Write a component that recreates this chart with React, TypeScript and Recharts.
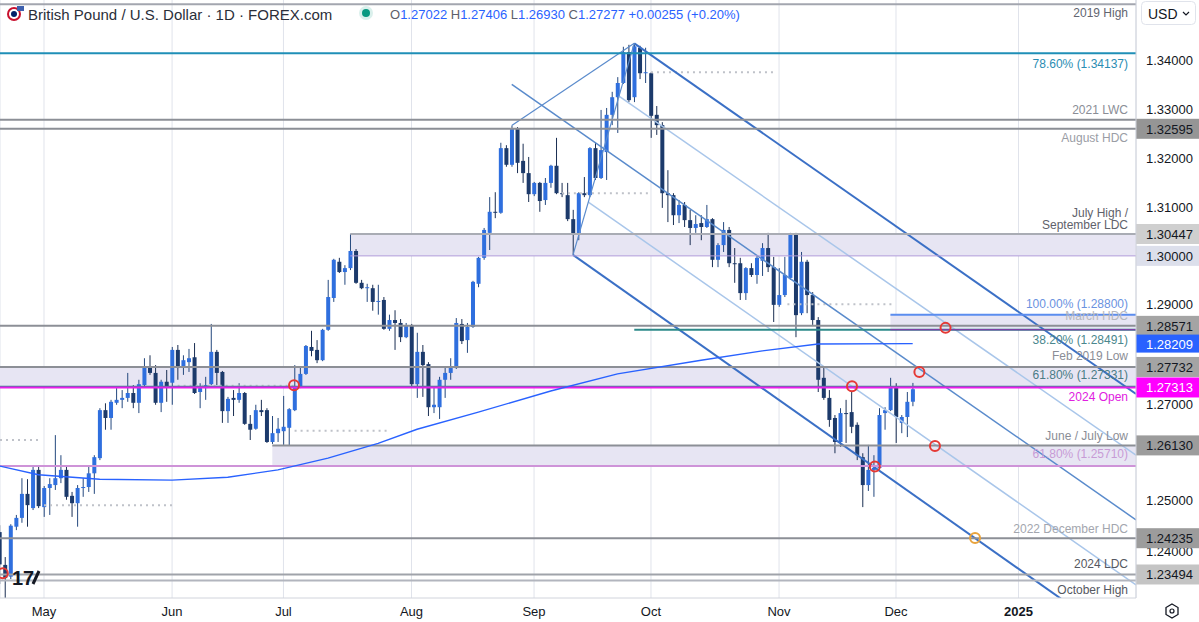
import React from 'react';
import {
  ComposedChart, Bar, Line, XAxis, YAxis, CartesianGrid,
  ReferenceLine, ReferenceArea, ReferenceDot,
} from 'recharts';

// ---------- data ----------
const FIRST_BAR = -1; // bar index of the first candle (Apr 19 2024), May 1 = 7
const opens = [1.2436,1.2369,1.2345,1.2447,1.2465,1.2514,1.2485,1.2563,1.2487,1.2526,1.2532,1.2546,1.2563,1.2510,1.2495,1.2526,1.2528,1.2556,1.2587,1.2685,1.2669,1.2700,1.2706,1.2710,1.2720,1.2700,1.2736,1.2773,1.2761,1.2700,1.2743,1.2741,1.2808,1.2773,1.2783,1.2793,1.2722,1.2730,1.2738,1.2804,1.2763,1.2683,1.2710,1.2706,1.2720,1.2657,1.2647,1.2685,1.2685,1.2620,1.2638,1.2642,1.2649,1.2685,1.2734,1.2759,1.2814,1.2808,1.2787,1.2849,1.2914,1.2988,1.2967,1.2975,1.3010,1.2945,1.2934,1.2934,1.2906,1.2910,1.2851,1.2869,1.2863,1.2834,1.2857,1.2738,1.2804,1.2779,1.2691,1.2691,1.2747,1.2761,1.2771,1.2861,1.2828,1.2855,1.2943,1.2996,1.3047,1.3090,1.3088,1.3220,1.3186,1.3261,1.3194,1.3169,1.3126,1.3149,1.3114,1.3149,1.3184,1.3128,1.3124,1.3075,1.3045,1.3128,1.3124,1.3220,1.3159,1.3212,1.3288,1.3324,1.3353,1.3416,1.3324,1.3425,1.3373,1.3373,1.3288,1.3267,1.3128,1.3124,1.3083,1.3104,1.3073,1.3057,1.3067,1.3059,1.3075,1.2992,1.3022,1.3053,1.2985,1.2985,1.2924,1.2975,1.2961,1.2990,1.3016,1.2977,1.2900,1.2920,1.2955,1.3043,1.2883,1.2988,1.2920,1.2869,1.2751,1.2710,1.2669,1.2620,1.2679,1.2681,1.2655,1.2589,1.2532,1.2563,1.2567,1.2679,1.2685,1.2732,1.2659,1.2671,1.27022];
const highs = [1.2450,1.2385,1.2452,1.2471,1.2546,1.2544,1.2569,1.2569,1.2530,1.2546,1.2634,1.2593,1.2569,1.2518,1.2532,1.2546,1.2571,1.2593,1.2689,1.2699,1.2706,1.2730,1.2726,1.2761,1.2736,1.2747,1.2791,1.2797,1.2777,1.2747,1.2767,1.2814,1.2818,1.2797,1.2810,1.2822,1.2740,1.2753,1.2861,1.2808,1.2765,1.2712,1.2726,1.2740,1.2722,1.2675,1.2696,1.2706,1.2689,1.2673,1.2669,1.2714,1.2689,1.2777,1.2773,1.2818,1.2847,1.2828,1.2851,1.2951,1.2994,1.2996,1.2981,1.3045,1.3014,1.2951,1.2943,1.2941,1.2941,1.2916,1.2880,1.2889,1.2871,1.2863,1.2861,1.2843,1.2818,1.2783,1.2732,1.2753,1.2773,1.2791,1.2873,1.2871,1.2863,1.2949,1.2998,1.3057,1.3120,1.3130,1.3231,1.3226,1.3266,1.3263,1.3229,1.3202,1.3151,1.3151,1.3159,1.3186,1.3241,1.3149,1.3149,1.3094,1.3130,1.3161,1.3222,1.3231,1.3298,1.3302,1.3335,1.3365,1.3427,1.3431,1.3434,1.3429,1.3425,1.3375,1.3306,1.3273,1.3175,1.3128,1.3114,1.3110,1.3094,1.3083,1.3083,1.3104,1.3077,1.3026,1.3069,1.3059,1.3016,1.2996,1.2977,1.2985,1.3000,1.3026,1.3047,1.2998,1.2975,1.2998,1.3047,1.3047,1.3008,1.2992,1.2926,1.2875,1.2771,1.2726,1.2675,1.2689,1.2706,1.2724,1.2660,1.2597,1.2614,1.2593,1.2689,1.2691,1.2751,1.2740,1.2675,1.2722,1.27406];
const lows = [1.2330,1.2301,1.2340,1.2440,1.2455,1.2447,1.2481,1.2485,1.2467,1.2471,1.2522,1.2536,1.2502,1.2467,1.2447,1.2508,1.2518,1.2514,1.2583,1.2645,1.2645,1.2696,1.2689,1.2702,1.2689,1.2679,1.2734,1.2757,1.2696,1.2681,1.2702,1.2696,1.2747,1.2757,1.2763,1.2718,1.2689,1.2706,1.2736,1.2736,1.2659,1.2659,1.2673,1.2700,1.2655,1.2624,1.2645,1.2673,1.2618,1.2616,1.2620,1.2614,1.2613,1.2683,1.2730,1.2757,1.2795,1.2781,1.2785,1.2847,1.2906,1.2965,1.2941,1.2971,1.2943,1.2932,1.2906,1.2888,1.2880,1.2849,1.2847,1.2808,1.2824,1.2832,1.2734,1.2710,1.2712,1.2673,1.2679,1.2667,1.2710,1.2747,1.2769,1.2820,1.2802,1.2853,1.2936,1.2992,1.3012,1.3077,1.3086,1.3182,1.3182,1.3169,1.3149,1.3110,1.3122,1.3090,1.3104,1.3139,1.3126,1.3120,1.3071,1.3002,1.3032,1.3120,1.3120,1.3155,1.3157,1.3155,1.3267,1.3251,1.3351,1.3314,1.3314,1.3361,1.3353,1.3241,1.3247,1.3098,1.3069,1.3063,1.3067,1.3059,1.3022,1.3047,1.3032,1.3057,1.2977,1.2977,1.3008,1.2977,1.2945,1.2910,1.2910,1.2957,1.2943,1.2959,1.2967,1.2865,1.2896,1.2916,1.2951,1.2834,1.2879,1.2883,1.2859,1.2722,1.2706,1.2651,1.2597,1.2610,1.2618,1.2638,1.2583,1.2487,1.2520,1.2508,1.2565,1.2645,1.2683,1.2618,1.2638,1.2630,1.26930];
const closes = [1.2370,1.2342,1.2449,1.2465,1.2514,1.2491,1.2563,1.2489,1.2526,1.2534,1.2546,1.2563,1.2508,1.2495,1.2526,1.2528,1.2556,1.2589,1.2685,1.2669,1.2702,1.2706,1.2710,1.2720,1.2700,1.2738,1.2773,1.2761,1.2700,1.2743,1.2734,1.2808,1.2771,1.2787,1.2791,1.2720,1.2730,1.2736,1.2804,1.2761,1.2683,1.2708,1.2706,1.2720,1.2657,1.2645,1.2685,1.2681,1.2620,1.2638,1.2647,1.2651,1.2687,1.2734,1.2759,1.2816,1.2806,1.2787,1.2849,1.2916,1.2992,1.2967,1.2975,1.3010,1.2945,1.2934,1.2936,1.2906,1.2908,1.2851,1.2869,1.2863,1.2834,1.2857,1.2738,1.2804,1.2777,1.2691,1.2696,1.2747,1.2761,1.2771,1.2863,1.2826,1.2855,1.2947,1.2996,1.3053,1.3090,1.3088,1.3220,1.3186,1.3261,1.3190,1.3169,1.3126,1.3149,1.3112,1.3149,1.3184,1.3128,1.3126,1.3075,1.3045,1.3128,1.3124,1.3220,1.3159,1.3216,1.3288,1.3324,1.3353,1.3416,1.3318,1.3428,1.3373,1.3375,1.3286,1.3267,1.3128,1.3124,1.3083,1.3104,1.3073,1.3057,1.3065,1.3059,1.3075,1.2992,1.3022,1.3053,1.2985,1.2983,1.2924,1.2975,1.2961,1.2996,1.3016,1.2977,1.2900,1.2920,1.2961,1.3043,1.2879,1.2988,1.2920,1.2869,1.2747,1.2710,1.2665,1.2620,1.2679,1.2677,1.2651,1.2593,1.2532,1.2563,1.2567,1.2675,1.2685,1.2732,1.2671,1.2671,1.2702,1.27277];

// 200-day moving average, read at a few bars
const maBarIdx = [-1, 6, 17, 30, 40, 49, 58, 67, 74, 85, 98, 110, 125, 136, 146, 163];
const maValues = [1.2571, 1.2553, 1.2544, 1.2542, 1.2548, 1.2563, 1.2587, 1.2617, 1.2646, 1.2681, 1.2724, 1.2759, 1.2787, 1.2806, 1.2820, 1.28209];

const monthTickIdx = [7, 30, 50, 73, 95, 116, 139, 160, 182];
const monthTickLabels = ['May', 'Jun', 'Jul', 'Aug', 'Sep', 'Oct', 'Nov', 'Dec', '2025'];
const priceTicks = [1.25, 1.29, 1.31, 1.32, 1.33, 1.34];
const coveredPriceTicks = [1.27, 1.24]; // partly hidden behind price badges

// horizontal levels
const levelKeys = ['high2019','fib786','lwc2021','augustHdc','julyHigh','round130','fib100','marchHdc','fib382','feb2019Low','fib618Upper','open2024','juneJulyLow','fib618Lower','dec2022Hdc','ldc2024','octHigh'];
const levelPrices = [1.3514, 1.34137, 1.3278, 1.32595, 1.30447, 1.30000, 1.28800, 1.28571, 1.28491, 1.27732, 1.27331, 1.27313, 1.26130, 1.25710, 1.24235, 1.23494, 1.2337];
const levelStartIdx = [null, null, null, null, 62, 62, 159, null, 113, null, null, null, 48, null, null, null, null];
const levelLabels = [['2019 High'], ['78.60% (1.34137)'], ['2021 LWC'], ['August HDC'], ['July High /', 'September LDC'], [], ['100.00% (1.28800)'], ['March HDC'], ['38.20% (1.28491)'], ['Feb 2019 Low'], ['61.80% (1.27331)'], ['2024 Open'], ['June / July Low'], ['61.80% (1.25710)'], ['2022 December HDC'], ['2024 LDC'], ['October High']];
const badgeKeys = ['augustHdc','julyHigh','round130','marchHdc','feb2019Low','open2024','juneJulyLow','dec2022Hdc','ldc2024'];

// shaded zones: [fromIdx or null, low price, high price]
const zoneStartIdx = [62, 159, null, 48];
const zoneLow = [1.30000, 1.28491, 1.27313, 1.25710];
const zoneHigh = [1.30447, 1.28800, 1.27732, 1.26130];

// dotted reference segments
const dotPrices = [1.3375, 1.3128, 1.2901, 1.2735, 1.2643, 1.2624, 1.2491];
const dotFromIdx = [116, 100, 140.5, 31, 52, -0.9, 7];
const dotToIdx = [138.5, 115.5, 159.5, 52, 69, 6.3, 30];

// Schiff pitchfork (segments in bar index / price)
const forkNames = ['upper', 'median', 'lower', 'upperQuarter', 'lowerQuarter', 'handleAC', 'handleBC'];
const forkFrom = [[113, 1.3434], [91, 1.3350], [102, 1.3002], [110.25, 1.3326], [104.75, 1.3110], [91, 1.3266], [102, 1.3002]];
const forkTo = [[203.1, 1.2718], [203.1, 1.2461], [190, 1.2297], [203.1, 1.2593], [203.1, 1.2328], [113, 1.3434], [113, 1.3434]];

// marker rings
const ringIdx = [-0.4, 51.9, 152.1, 156.2, 164.2, 167, 168.9];
const ringPrices = [1.2352, 1.2736, 1.2734, 1.2570, 1.2763, 1.2612, 1.2853];
const orangeRingIdx = 174.2;
const orangeRingPrice = 1.2424;

// ---------- styles ----------
const FONT = '"Liberation Sans", Arial, Helvetica, sans-serif';
const X_MIN = -0.9, X_MAX = 203.1;
const Y_MIN = 1.23014, Y_MAX = 1.35225;
const UP = '#2f6fde', DOWN = '#1c3a6b', WICK_UP = '#24487e', WICK_DOWN = '#1a2e52';
const ZONE_FILL = '#e7e5f3';

const LEVEL_STYLE: Record<string, { stroke: string; w: number; color: string; dy: number[] }> = {
  high2019: { stroke: '#a3a6af', w: 2, color: '#62656f', dy: [9] },
  fib786: { stroke: '#1f8fb7', w: 2, color: '#2a8db3', dy: [11] },
  lwc2021: { stroke: '#8c8f96', w: 2, color: '#8a8d96', dy: [-10] },
  augustHdc: { stroke: '#8c8f96', w: 2, color: '#9a9da5', dy: [9] },
  julyHigh: { stroke: '#a9acb4', w: 2, color: '#5f626b', dy: [-21, -9] },
  round130: { stroke: '#b39ddb', w: 1, color: '#888', dy: [] },
  fib100: { stroke: '#5b8def', w: 2, color: '#6a92df', dy: [-11] },
  marchHdc: { stroke: '#8c8f96', w: 2, color: '#b5b7bd', dy: [-10] },
  fib382: { stroke: '#2d8a8a', w: 2, color: '#4a878d', dy: [10] },
  feb2019Low: { stroke: '#8c8f96', w: 2, color: '#8a8d96', dy: [-11] },
  fib618Upper: { stroke: '#2d8a8a', w: 1.5, color: '#4a7c86', dy: [-11.5] },
  open2024: { stroke: '#e91ee9', w: 2, color: '#e020e0', dy: [10] },
  juneJulyLow: { stroke: '#8c8f96', w: 2, color: '#8a8d96', dy: [-9] },
  fib618Lower: { stroke: '#ce93d8', w: 2, color: '#c79bd6', dy: [-11.5] },
  dec2022Hdc: { stroke: '#8c8f96', w: 2, color: '#a3a6ae', dy: [-9] },
  ldc2024: { stroke: '#a0a3aa', w: 2, color: '#555861', dy: [-10] },
  octHigh: { stroke: '#b2b5be', w: 2, color: '#555861', dy: [9.5] },
};

const BADGE_STYLE: Record<string, { bg: string; fg: string }> = {
  augustHdc: { bg: '#959595', fg: '#131722' },
  julyHigh: { bg: '#cfcfcf', fg: '#131722' },
  round130: { bg: '#dcdfeb', fg: '#131722' },
  marchHdc: { bg: '#a4a4a4', fg: '#131722' },
  feb2019Low: { bg: '#a4a4a4', fg: '#131722' },
  open2024: { bg: '#ff00ff', fg: '#ffffff' },
  juneJulyLow: { bg: '#9c9c9c', fg: '#131722' },
  dec2022Hdc: { bg: '#9c9c9c', fg: '#131722' },
  ldc2024: { bg: '#c4c4c4', fg: '#131722' },
};

const FORK_STYLE: Record<string, { stroke: string; w: number }> = {
  upper: { stroke: '#3b70c6', w: 2 },
  median: { stroke: '#5a8bcc', w: 1.5 },
  lower: { stroke: '#3b70c6', w: 2 },
  upperQuarter: { stroke: '#a9c6ea', w: 1.5 },
  lowerQuarter: { stroke: '#a9c6ea', w: 1.5 },
  handleAC: { stroke: '#5a8bcc', w: 1.2 },
  handleBC: { stroke: '#5a8bcc', w: 1.2 },
};

// ---------- rows ----------
const rows = opens.map((o, k) => {
  const i = k + FIRST_BAR;
  const mk = maBarIdx.indexOf(i);
  return { i, o, h: highs[k], l: lows[k], c: closes[k], ma: mk >= 0 ? maValues[mk] : null };
});

function Candle(props: any) {
  const { x, y, width, height, payload } = props;
  if (!payload || x == null || y == null) return null;
  const { o, h, l, c } = payload;
  const cx = x + width / 2;
  const span = h - l;
  const py = (p: number) => (span > 0 ? y + ((h - p) / span) * height : y);
  const up = c >= o;
  const top = py(Math.max(o, c));
  const bottom = py(Math.min(o, c));
  return (
    <g>
      <line x1={cx} x2={cx} y1={y} y2={y + height} stroke={up ? WICK_UP : WICK_DOWN} strokeWidth={1} />
      <rect x={cx - 2} y={top} width={4} height={Math.max(1, bottom - top)} fill={up ? UP : DOWN} />
    </g>
  );
}

function levelLabel(idx: number) {
  const key = levelKeys[idx];
  const st = LEVEL_STYLE[key];
  const lines = levelLabels[idx];
  const badge = badgeKeys.includes(key) ? BADGE_STYLE[key] : null;
  return (props: any) => {
    const vb = props.viewBox;
    if (!vb) return null;
    const right = vb.x + vb.width;
    const y = vb.y;
    return (
      <g>
        {lines.map((t: string, k: number) => (
          <text key={k} x={right - 8} y={y + st.dy[k]} textAnchor="end" dominantBaseline="central"
            fontSize={12} fontFamily={FONT} fill={st.color}>{t}</text>
        ))}
        {badge && (
          <g>
            <rect x={right} y={y - 10} width={63} height={20} fill={badge.bg} />
            <text x={right + 10} y={y + 0.5} dominantBaseline="central" fontSize={13} fontFamily={FONT} fill={badge.fg}>
              {levelPrices[idx].toFixed(5)}
            </text>
          </g>
        )}
      </g>
    );
  };
}

function coveredTickLabel(value: number) {
  return (props: any) => {
    const vb = props.viewBox;
    if (!vb) return null;
    const right = vb.x + vb.width;
    return (
      <text x={right + 10} y={vb.y + 2} dominantBaseline="central" fontSize={13} fontFamily={FONT} fill="#131722">
        {value.toFixed(5)}
      </text>
    );
  };
}

function maBadge(props: any) {
  const vb = props.viewBox;
  if (!vb) return null;
  const right = vb.x + vb.width;
  return (
    <g>
      <rect x={right} y={vb.y - 9} width={63} height={18} fill="#2962ff" />
      <text x={right + 10} y={vb.y + 0.5} dominantBaseline="central" fontSize={13} fontFamily={FONT} fill="#ffffff">
        {maValues[maValues.length - 1].toFixed(5)}
      </text>
    </g>
  );
}

function MonthTick(props: any) {
  const { x, y, payload } = props;
  const k = monthTickIdx.indexOf(payload.value);
  const label = k >= 0 ? monthTickLabels[k] : '';
  return (
    <text x={x} y={y + 1} dy="0.71em" textAnchor="middle" fontSize={13} fontFamily={FONT}
      fill="#131722" fontWeight={label === '2025' ? 700 : 400}>{label}</text>
  );
}

export default function App() {
  return (
    <div style={{ position: 'absolute', left: 0, top: 0, width: 1199, height: 622, background: '#fff', overflow: 'hidden' }}>
      <ComposedChart width={1199} height={622} data={rows} margin={{ top: 0, right: 0, bottom: 0, left: 0 }}>
        <CartesianGrid vertical horizontal={false} stroke="#e0e3eb" />
        <XAxis dataKey="i" type="number" domain={[X_MIN, X_MAX]} allowDataOverflow ticks={monthTickIdx}
          interval={0} height={24} tickLine={false} axisLine={{ stroke: '#d1d4dc' }} tick={<MonthTick />} />
        <YAxis orientation="right" type="number" domain={[Y_MIN, Y_MAX]} allowDataOverflow width={63}
          ticks={priceTicks} interval={0} tickLine={false} axisLine={{ stroke: '#d1d4dc' }} tickMargin={4}
          tickFormatter={(v: number) => v.toFixed(5)}
          tick={{ fontSize: 13, fontFamily: FONT, fill: '#131722' }} />

        {zoneLow.map((lo, k) => (
          <ReferenceArea key={'z' + k} x1={zoneStartIdx[k] ?? undefined} x2={zoneStartIdx[k] != null ? X_MAX : undefined}
            y1={lo} y2={zoneHigh[k]} fill={ZONE_FILL} fillOpacity={1} stroke="none" ifOverflow="hidden" />
        ))}

        {dotPrices.map((p, k) => (
          <ReferenceLine key={'d' + k} segment={[{ x: dotFromIdx[k], y: p }, { x: dotToIdx[k], y: p }]}
            stroke="#bfc2c9" strokeWidth={2} strokeDasharray="2 4" ifOverflow="hidden" />
        ))}

        {forkNames.map((n, k) => (
          <ReferenceLine key={'f' + n} segment={[{ x: forkFrom[k][0], y: forkFrom[k][1] }, { x: forkTo[k][0], y: forkTo[k][1] }]}
            stroke={FORK_STYLE[n].stroke} strokeWidth={FORK_STYLE[n].w} ifOverflow="hidden" />
        ))}

        {coveredPriceTicks.map((v) => (
          <ReferenceLine key={'ct' + v} y={v} stroke="none" ifOverflow="visible" label={coveredTickLabel(v)} />
        ))}

        {levelKeys.map((key, k) => {
          const st = LEVEL_STYLE[key];
          const start = levelStartIdx[k];
          if (start != null) {
            return (
              <ReferenceLine key={'l' + key} segment={[{ x: start, y: levelPrices[k] }, { x: X_MAX, y: levelPrices[k] }]}
                stroke={st.stroke} strokeWidth={st.w} ifOverflow="visible" label={levelLabel(k)} />
            );
          }
          return (
            <ReferenceLine key={'l' + key} y={levelPrices[k]} stroke={st.stroke} strokeWidth={st.w}
              ifOverflow="visible" label={levelLabel(k)} />
          );
        })}
        <ReferenceLine segment={[{ x: 159, y: 1.28491 }, { x: X_MAX, y: 1.28491 }]} stroke="#9c27b0" strokeWidth={1} ifOverflow="visible" />

        <Line dataKey="ma" stroke="#2962ff" strokeWidth={1.4} dot={false} connectNulls isAnimationActive={false} />
        <Bar dataKey={(d: any) => [d.l, d.h]} barSize={4} shape={(p: any) => <Candle {...p} />} isAnimationActive={false} />

        <ReferenceLine y={maValues[maValues.length - 1]} stroke="none" ifOverflow="visible" label={maBadge} />

        {ringIdx.map((x, k) => (
          <ReferenceDot key={'r' + k} x={x} y={ringPrices[k]} r={5} fill="none" stroke="#e53935" strokeWidth={2} ifOverflow="visible" />
        ))}
        <ReferenceDot x={orangeRingIdx} y={orangeRingPrice} r={5} fill="none" stroke="#e8a33d" strokeWidth={2} ifOverflow="visible" />
      </ComposedChart>

      {/* header legend */}
      <svg style={{ position: 'absolute', left: 0, top: 0 }} width={1199} height={622} pointerEvents="none">
        <g>
          <circle cx={14} cy={14} r={7} fill="#c8102e" />
          <circle cx={14} cy={14} r={5} fill="#ffffff" />
          <circle cx={14} cy={14} r={3} fill="#012169" />
          <rect x={17} y={6} width={7} height={5} fill="#3c5fae" />
        </g>
        <text x={28} y={14} dominantBaseline="central" fontSize={15} fontFamily={FONT} fill="#2a2e39">
          British Pound / U.S. Dollar · 1D · FOREX.com
        </text>
        <circle cx={366} cy={13} r={7} fill="#089981" fillOpacity={0.15} />
        <circle cx={366} cy={13} r={4} fill="#089981" />
        <text x={390} y={14} dominantBaseline="central" fontSize={13} fontFamily={FONT}>
          <tspan fill="#5d606b">O</tspan><tspan fill="#2962ff">1.27022 </tspan>
          <tspan fill="#5d606b">H</tspan><tspan fill="#2962ff">1.27406 </tspan>
          <tspan fill="#5d606b">L</tspan><tspan fill="#2962ff">1.26930 </tspan>
          <tspan fill="#5d606b">C</tspan><tspan fill="#2962ff">1.27277 +0.00255 (+0.20%)</tspan>
        </text>
        {/* USD box */}
        <rect x={1141.5} y={1.5} width={54} height={23} rx={4} fill="#ffffff" stroke="#e0e3eb" />
        <text x={1148} y={14} dominantBaseline="central" fontSize={14} fontFamily={FONT} fill="#131722">USD</text>
        <path d="M1183 12 l3 3 l3 -3" stroke="#131722" strokeWidth={1.2} fill="none" />
        {/* settings icon */}
        <polygon points="1172,604 1178,607.5 1178,614.5 1172,618 1166,614.5 1166,607.5" fill="none" stroke="#131722" strokeWidth={1.3} />
        <circle cx={1172} cy={611} r={2} fill="none" stroke="#131722" strokeWidth={1.2} />
        {/* TradingView mark */}
        <text x={12} y={585} fontSize={20} fontWeight={900} fontFamily={FONT} fill="#131722">17</text>
        <path d="M33 584 l6 -13 l0 0" stroke="#131722" strokeWidth={3} />
      </svg>
    </div>
  );
}
